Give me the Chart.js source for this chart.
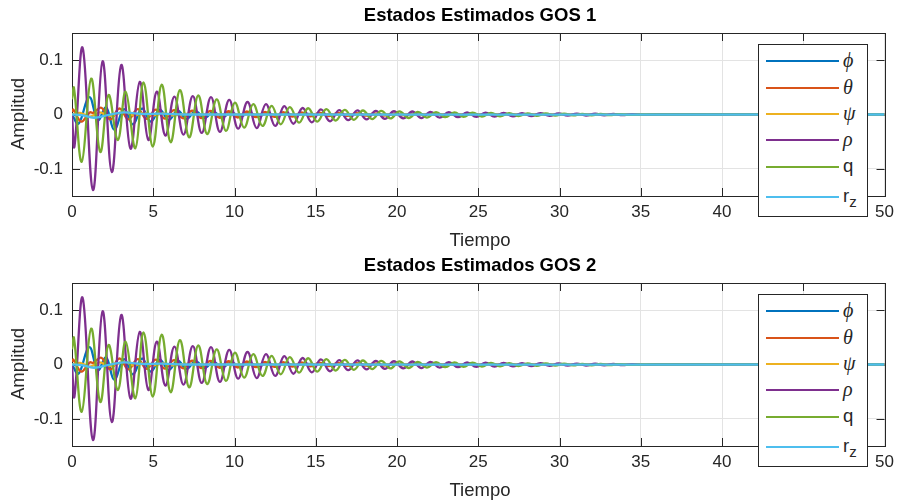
<!DOCTYPE html>
<html lang="es">
<head>
<meta charset="UTF-8">
<title>Estados Estimados GOS</title>
<script src="https://cdn.jsdelivr.net/npm/chart.js"></script>
<style>
  body { margin: 0; background: #fff; }
  #wrap { position: relative; width: 900px; height: 501px; font-family: "Liberation Sans", Arial, sans-serif; color: #262626; }
  .panel { position: absolute; left: 0; width: 900px; }
  .panel canvas { position: absolute; left: 0; top: 0; }
  .title { position: absolute; left: 72px; width: 816px; top: 4px; text-align: center; font-weight: bold; font-size: 18.5px; color: #000; }
  .xlabel { position: absolute; left: 72px; width: 816px; top: 229px; text-align: center; font-size: 18.5px; }
  .ylabel { position: absolute; left: 18px; top: 114px; transform: translate(-50%, -50%) rotate(-90deg); font-size: 18.5px; white-space: nowrap; }
  .legend { position: absolute; left: 758px; top: 44px; width: 110px; height: 173px; background: #fff; border: 1px solid #262626; box-sizing: border-box; }
  .legend .ln { position: absolute; left: 7px; width: 73px; height: 2px; }
  .legend .lb { position: absolute; left: 84px; font-size: 18.5px; line-height: 20px; }
  .legend .gr { font-family: "Liberation Serif", "DejaVu Serif", serif; font-style: italic; font-size: 20px; }
  .legend sub { font-size: 15px; vertical-align: -5px; }
</style>
</head>
<body>
<div id="wrap">
  <div class="panel" style="top:0;height:250px">
    <canvas id="grafico1" width="900" height="250"></canvas>
    <div class="title">Estados Estimados GOS 1</div>
    <div class="xlabel">Tiempo</div>
    <div class="ylabel">Amplitud</div>
    <div class="legend" id="leyenda1"></div>
  </div>
  <div class="panel" style="top:250px;height:251px">
    <canvas id="grafico2" width="900" height="251"></canvas>
    <div class="title">Estados Estimados GOS 2</div>
    <div class="xlabel">Tiempo</div>
    <div class="ylabel">Amplitud</div>
    <div class="legend" id="leyenda2"></div>
  </div>
</div>

<script>
  // ejes
  const tiempoTicks = [0, 5, 10, 15, 20, 25, 30, 35, 40, 45, 50];
  const ampTicks = [-0.1, 0, 0.1];
  const ampTickLabels = ["-0.1", "0", "0.1"];

  // series [tiempo, valor] (extremos de cada oscilacion)
  const phi = [
    [0, 0], [0.4, -0.017], [1.06, 0.032], [1.6, -0.01], [2.1, 0.013], [2.6, -0.028],
    [3.2, 0.01], [3.75, -0.018], [4.3, 0.011], [4.85, -0.013], [5.4, 0.009], [5.95, -0.01],
    [6.5, 0.007], [7.05, -0.008], [7.6, 0.006], [8.15, -0.0065], [8.7, 0.005], [9.25, -0.005],
    [9.8, 0.004], [10.35, -0.004], [10.9, 0.003], [11.5, -0.003], [12.0, 0.0025], [12.6, -0.0022],
    [13.2, 0.0018], [13.7, -0.0015], [14.3, 0.001], [15.5, 0], [50, 0]
  ];
  const theta = [
    [0, 0.005], [0.08, 0.009], [0.57, -0.013], [1.1, 0.004], [1.3, 0.003], [1.8, 0.0125],
    [2.36, -0.009], [2.92, 0.011], [3.48, -0.009], [4.04, 0.01], [4.6, -0.008], [5.16, 0.009],
    [5.72, -0.0075], [6.28, 0.008], [6.84, -0.007], [7.4, 0.007], [7.96, -0.0065], [8.52, 0.0065],
    [9.08, -0.006], [9.64, 0.006], [10.2, -0.0055], [10.76, 0.0055], [11.32, -0.005], [11.88, 0.005],
    [12.44, -0.0045], [13.0, 0.0045], [13.56, -0.004], [14.12, 0.004], [14.68, -0.0035], [15.24, 0.0035],
    [15.8, -0.003], [16.36, 0.003], [16.92, -0.0027], [17.48, 0.0025], [18.04, -0.0022], [18.6, 0.002],
    [19.16, -0.0018], [19.72, 0.0016], [20.28, -0.0014], [20.84, 0.0012], [21.4, -0.001], [21.96, 0.0008],
    [23, 0], [50, 0]
  ];
  const psi = [
    [0, 0], [0.5, 0.003], [1.1, -0.004], [1.7, 0.004], [2.3, -0.003], [3.2, 0.005], [3.8, -0.002],
    [4.4, 0.003], [5.0, -0.002], [5.6, 0.002], [6.2, -0.0015], [7.0, 0.001], [8.0, 0], [50, 0]
  ];
  const rho = [
    [0, 0], [0.15, -0.059], [0.65, 0.123], [1.29, -0.139], [1.88, 0.098], [2.45, -0.106],
    [3.03, 0.091], [3.6, -0.063], [4.17, 0.06], [4.7, -0.047], [5.22, 0.042], [5.75, -0.039],
    [6.3, 0.033], [6.86, -0.037], [7.43, 0.034], [7.98, -0.034], [8.55, 0.032], [9.1, -0.032],
    [9.67, 0.027], [10.22, -0.026], [10.8, 0.023], [11.36, -0.025], [11.93, 0.019], [12.5, -0.021],
    [13.06, 0.0155], [13.62, -0.017], [14.19, 0.012], [14.75, -0.0145], [15.31, 0.0095], [15.88, -0.0125],
    [16.44, 0.008], [17.0, -0.0105], [17.56, 0.0075], [18.13, -0.009], [18.69, 0.0068], [19.25, -0.008],
    [19.81, 0.006], [20.38, -0.0072], [20.94, 0.0055], [21.5, -0.0065], [22.06, 0.005], [22.63, -0.0058],
    [23.19, 0.0045], [23.75, -0.005], [24.31, 0.004], [24.88, -0.0045], [25.44, 0.0035], [26.0, -0.004],
    [26.56, 0.003], [27.13, -0.0035], [27.69, 0.0027], [28.25, -0.003], [28.81, 0.0024], [29.38, -0.0026],
    [29.94, 0.002], [30.5, -0.0022], [31.06, 0.0017], [31.63, -0.0018], [32.19, 0.0014], [32.75, -0.0015],
    [33.31, 0.0011], [33.88, -0.0012], [34.44, 0.0008], [35.0, -0.0008], [36, 0], [50, 0]
  ];
  const q = [
    [0, 0.028], [0.12, 0.049], [0.6, -0.087], [1.18, 0.066], [1.74, -0.069], [2.25, 0.036],
    [2.82, -0.047], [3.3, 0.042], [3.9, -0.062], [4.4, 0.059], [4.97, -0.059], [5.52, 0.055],
    [6.07, -0.051], [6.64, 0.045], [7.21, -0.042], [7.77, 0.035], [8.32, -0.036], [8.9, 0.028],
    [9.47, -0.03], [10.02, 0.022], [10.59, -0.024], [11.15, 0.019], [11.72, -0.021], [12.28, 0.016],
    [12.84, -0.018], [13.4, 0.0135], [13.97, -0.015], [14.53, 0.0115], [15.09, -0.013], [15.65, 0.0098],
    [16.22, -0.0112], [16.78, 0.0085], [17.34, -0.0097], [17.9, 0.0074], [18.47, -0.0084], [19.03, 0.0065],
    [19.59, -0.0073], [20.15, 0.0057], [20.72, -0.0064], [21.28, 0.005], [21.84, -0.0056], [22.4, 0.0044],
    [22.97, -0.0049], [23.53, 0.0039], [24.09, -0.0043], [24.65, 0.0034], [25.22, -0.0037], [25.78, 0.003],
    [26.34, -0.0032], [26.9, 0.0026], [27.47, -0.0028], [28.03, 0.0022], [28.59, -0.0024], [29.15, 0.0019],
    [29.72, -0.002], [30.28, 0.0016], [30.84, -0.0017], [31.4, 0.0013], [31.97, -0.0014], [32.53, 0.001],
    [33.09, -0.0011], [33.65, 0.0008], [34.22, -0.0008], [35.2, 0], [50, 0]
  ];
  const rz = [
    [0, 0], [0.6, -0.001], [1.35, -0.006], [2.2, -0.001], [3.2, 0.004], [4.2, 0.001],
    [5.5, 0.0015], [7.0, 0], [50, 0]
  ];

  const series = [phi, theta, psi, rho, q, rz];
  const nombres = ['<span class="gr">&#981;</span>', '<span class="gr">&theta;</span>', '<span class="gr">&psi;</span>',
                   '<span class="gr">&rho;</span>', 'q', 'r<sub>z</sub>'];
  const colores = ["#0072BD", "#D95319", "#EDB120", "#7E2F8E", "#77AC30", "#4DBEEE"];
  const filasLeyenda = [16, 42.5, 69, 95, 121.5, 151.5];

  const fuente = { family: '"Liberation Sans", Arial, sans-serif', size: 17 };

  // caja y marcas hacia adentro, como en MATLAB
  const cajaPlugin = {
    id: "caja",
    beforeDatasetsDraw(chart) {
      const { ctx, chartArea: a, scales } = chart;
      ctx.save();
      ctx.strokeStyle = "#262626";
      ctx.lineWidth = 1;
      ctx.beginPath();
      tiempoTicks.forEach(v => {
        const px = Math.round(scales.x.getPixelForValue(v)) + 0.5;
        ctx.moveTo(px, a.bottom); ctx.lineTo(px, a.bottom - 8);
        ctx.moveTo(px, a.top); ctx.lineTo(px, a.top + 8);
      });
      ampTicks.forEach(v => {
        const py = Math.round(scales.y.getPixelForValue(v)) + 0.5;
        ctx.moveTo(a.left, py); ctx.lineTo(a.left + 8, py);
        ctx.moveTo(a.right, py); ctx.lineTo(a.right - 8, py);
      });
      ctx.stroke();
      ctx.strokeRect(Math.round(a.left) + 0.5, Math.round(a.top) + 0.5,
                     Math.round(a.right - a.left), Math.round(a.bottom - a.top));
      ctx.restore();
    }
  };

  function gerarGrafico(id, alto) {
    const ctx = document.getElementById(id).getContext("2d");
    return new Chart(ctx, {
      type: "line",
      data: {
        datasets: series.map((s, i) => ({
          data: s.map(p => ({ x: p[0], y: p[1] })),
          borderColor: colores[i],
          borderWidth: 2.3,
          pointRadius: 0,
          tension: 0.4,
          fill: false,
          order: series.length - i
        }))
      },
      options: {
        responsive: false,
        animation: false,
        layout: { padding: { top: 33, right: 12, left: 0, bottom: 0 } },
        plugins: { legend: { display: false }, tooltip: { enabled: false } },
        scales: {
          x: {
            type: "linear", min: 0, max: 50,
            afterBuildTicks: s => { s.ticks = tiempoTicks.map(v => ({ value: v })); },
            afterFit: s => { s.height = alto - 196; },
            ticks: { font: fuente, color: "#262626", padding: 6, maxRotation: 0, autoSkip: false },
            grid: { color: "#e3e3e3", drawTicks: false },
            border: { display: false }
          },
          y: {
            type: "linear", min: -0.15, max: 0.15,
            afterBuildTicks: s => { s.ticks = ampTicks.map(v => ({ value: v })); },
            afterFit: s => { s.width = 72; },
            ticks: {
              font: fuente, color: "#262626", padding: 9,
              callback: (v, i) => ampTickLabels[i]
            },
            grid: { color: "#e3e3e3", drawTicks: false },
            border: { display: false }
          }
        }
      },
      plugins: [cajaPlugin]
    });
  }

  function gerarLeyenda(id) {
    const caja = document.getElementById(id);
    nombres.forEach((n, i) => {
      const ln = document.createElement("div");
      ln.className = "ln";
      ln.style.top = (filasLeyenda[i] - 1) + "px";
      ln.style.background = colores[i];
      caja.appendChild(ln);
      const lb = document.createElement("div");
      lb.className = "lb";
      lb.style.top = (filasLeyenda[i] - 11) + "px";
      lb.innerHTML = n;
      caja.appendChild(lb);
    });
  }

  gerarGrafico("grafico1", 250);
  gerarGrafico("grafico2", 251);
  gerarLeyenda("leyenda1");
  gerarLeyenda("leyenda2");
</script>
</body>
</html>
